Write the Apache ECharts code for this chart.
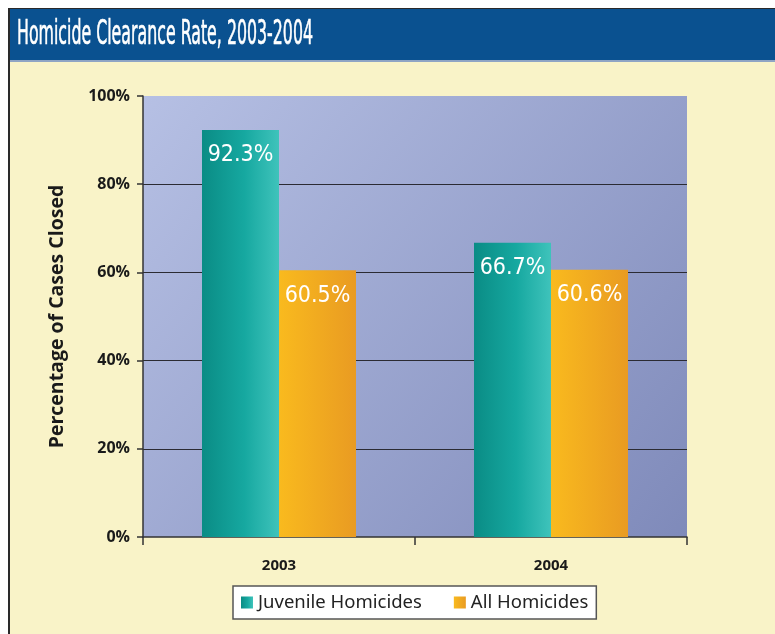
<!DOCTYPE html>
<html>
<head>
<meta charset="utf-8">
<script src="https://cdn.jsdelivr.net/npm/echarts@6/dist/echarts.min.js"></script>
<style>
  html, body { margin: 0; padding: 0; background: #ffffff; }
  #chart { width: 775px; height: 634px; }
</style>
</head>
<body>
<div id="chart"></div>
<script>
// Clearance rates by year
const years = ['2003', '2004'];
const juvenileHomicides = [92.3, 66.7];
const allHomicides = [60.5, 60.6];
const seriesNames = ['Juvenile Homicides', 'All Homicides'];
const chartTitle = 'Homicide Clearance Rate, 2003-2004';
const yAxisTitle = 'Percentage of Cases Closed';

const condensed = '"DejaVu Sans Condensed", "Liberation Sans Narrow", sans-serif';
const sans = '"Open Sans", "Noto Sans", sans-serif';

// Squeeze the header text horizontally so it reads as a condensed face
const titleFont = '33px ' + condensed;
const measureCtx = document.createElement('canvas').getContext('2d');
measureCtx.font = titleFont;
const titleScale = 296 / measureCtx.measureText(chartTitle).width;

const tealFill = new echarts.graphic.LinearGradient(0, 0, 1, 0, [
  { offset: 0, color: '#0A8C85' },
  { offset: 0.55, color: '#16A8A0' },
  { offset: 1, color: '#3FC3BB' }
]);
const orangeFill = new echarts.graphic.LinearGradient(0, 0, 1, 0, [
  { offset: 0, color: '#F9BA1E' },
  { offset: 1, color: '#E99B22' }
]);

const barLabel = {
  show: true,
  position: 'insideTop',
  distance: 14,
  color: '#ffffff',
  fontFamily: condensed,
  fontSize: 23,
  formatter: p => p.value.toFixed(1) + '%'
};

const chart = echarts.init(document.getElementById('chart'), null, { renderer: 'canvas' });

chart.setOption({
  backgroundColor: '#ffffff',
  animation: false,
  graphic: [
    // page frame and header band
    { type: 'rect', z: -10, shape: { x: 8, y: 8, width: 767, height: 626 }, style: { fill: '#2a2a2a' } },
    { type: 'rect', z: -9, shape: { x: 10, y: 62, width: 765, height: 572 }, style: { fill: '#F9F3C8' } },
    { type: 'rect', z: -9, shape: { x: 10, y: 9, width: 765, height: 52 }, style: { fill: '#0A5190' } },
    { type: 'rect', z: -9, shape: { x: 10, y: 60, width: 765, height: 2 }, style: { fill: '#8FA4C4' } },
    {
      type: 'text', x: 17, y: 35, scaleX: titleScale, z: 10,
      style: { text: chartTitle, fill: '#ffffff', font: titleFont, verticalAlign: 'middle', stroke: '#ffffff', lineWidth: 0.6 }
    }
  ],
  legend: {
    left: 233,
    top: 586,
    padding: [7, 8, 7, 8],
    backgroundColor: '#ffffff',
    borderColor: '#555555',
    borderWidth: 1.5,
    borderRadius: 0,
    itemWidth: 12,
    itemHeight: 12,
    itemGap: 32,
    icon: 'rect',
    textStyle: { fontFamily: '"Noto Sans", sans-serif', fontSize: 18.5, color: '#222222' },
    data: seriesNames
  },
  grid: {
    left: 143, right: 88, top: 96, bottom: 97,
    show: true,
    borderWidth: 0,
    backgroundColor: new echarts.graphic.LinearGradient(0, 0, 1, 1, [
      { offset: 0, color: '#B6C0E4' },
      { offset: 1, color: '#7F8ABA' }
    ])
  },
  xAxis: {
    type: 'category',
    data: years,
    axisLine: { lineStyle: { color: '#333333', width: 1.5 } },
    axisTick: { show: true, length: 8, lineStyle: { color: '#333333', width: 1.5 } },
    axisLabel: { color: '#1a1a1a', fontWeight: 'bold', fontSize: 15, margin: 21, fontFamily: sans }
  },
  yAxis: {
    type: 'value',
    min: 0, max: 100, interval: 20,
    name: yAxisTitle,
    nameLocation: 'middle',
    nameGap: 76,
    nameTextStyle: { fontWeight: 'bold', fontSize: 19.5, color: '#1a1a1a', fontFamily: sans },
    axisLine: { show: true, lineStyle: { color: '#333333', width: 1.5 } },
    axisTick: { show: true, length: 6, lineStyle: { color: '#333333', width: 1.5 } },
    axisLabel: { formatter: '{value}%', color: '#1a1a1a', fontWeight: 'bold', fontSize: 16, margin: 13, fontFamily: sans },
    splitLine: { show: true, lineStyle: { color: ['transparent', '#2b2b33', '#2b2b33', '#2b2b33', '#2b2b33', 'transparent'], width: 1.2 } }
  },
  series: [
    {
      name: seriesNames[0],
      type: 'bar',
      data: juvenileHomicides,
      barWidth: 77,
      barGap: '0%',
      itemStyle: { color: tealFill },
      label: barLabel
    },
    {
      name: seriesNames[1],
      type: 'bar',
      data: allHomicides,
      barWidth: 77,
      itemStyle: { color: orangeFill },
      label: barLabel
    }
  ]
});
</script>
</body>
</html>
